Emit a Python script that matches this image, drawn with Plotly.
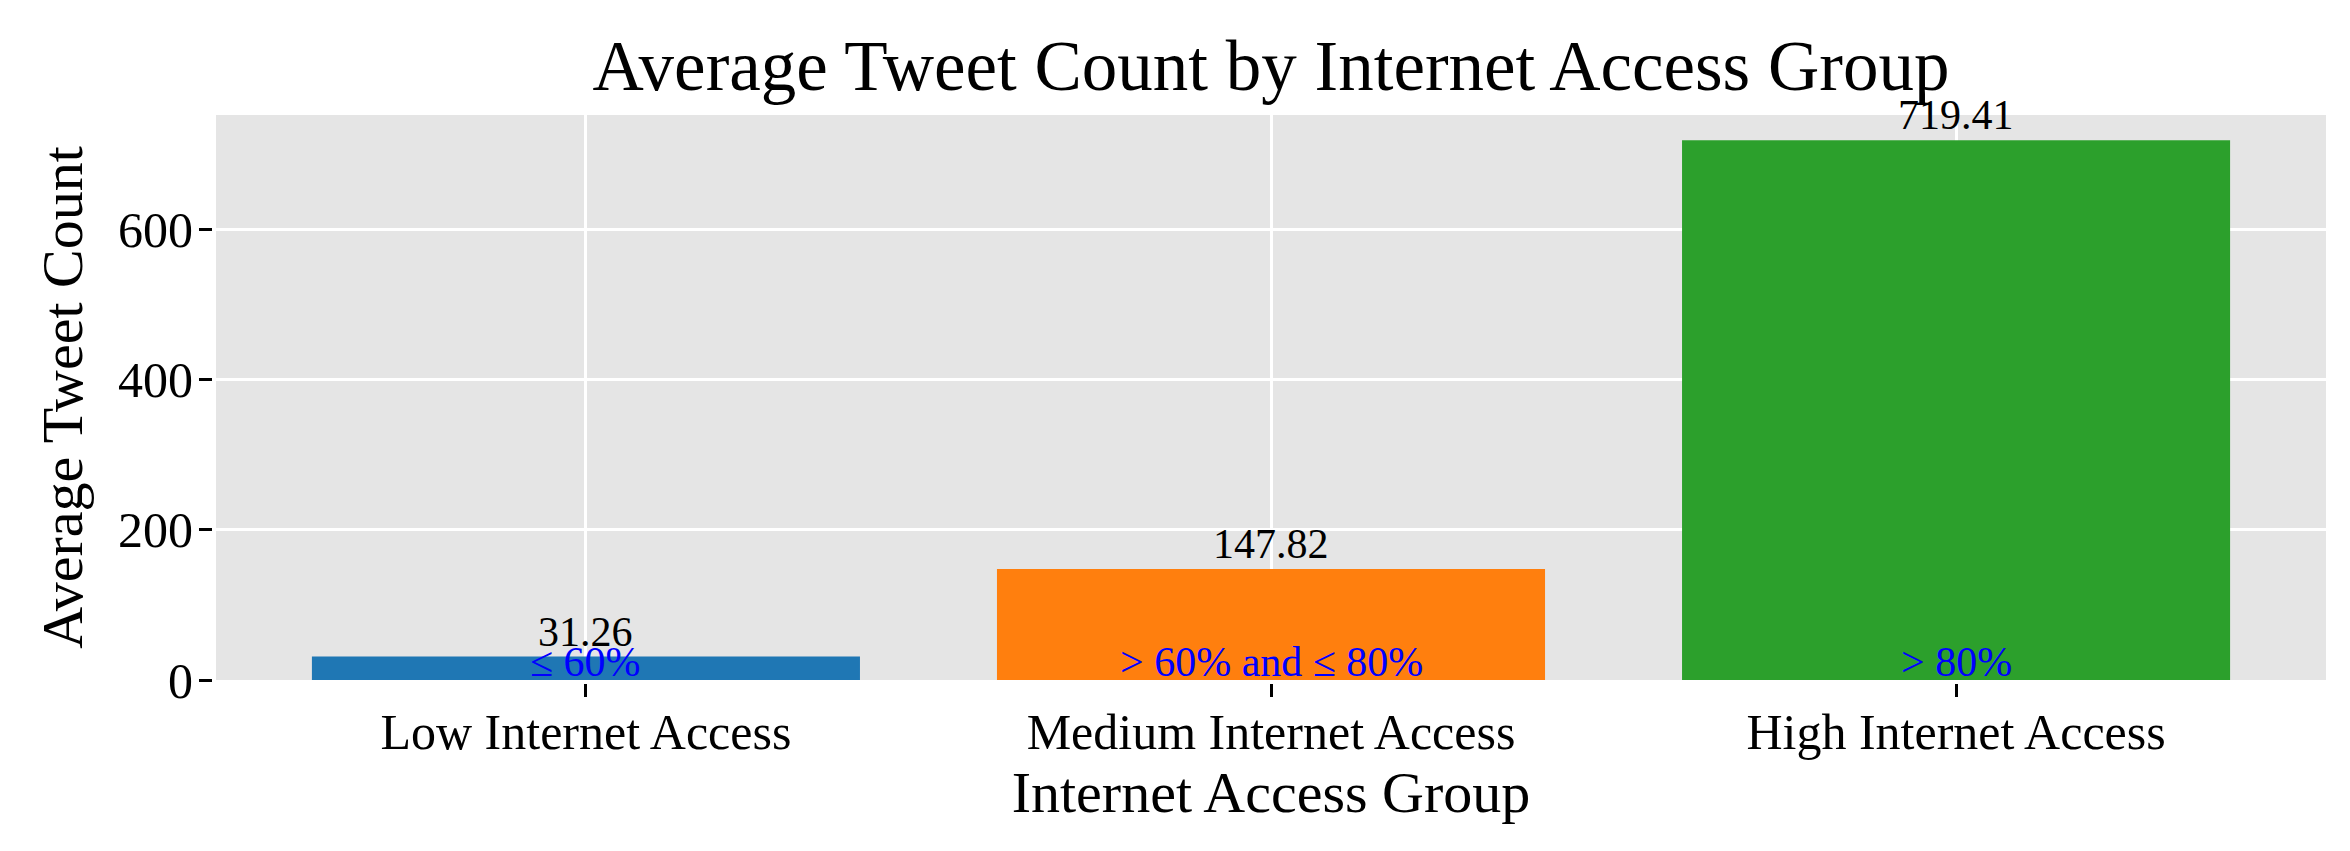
import plotly.graph_objects as go

categories = ["Low Internet Access", "Medium Internet Access", "High Internet Access"]
avg_tweets = [31.26, 147.82, 719.41]
value_labels = ["31.26", "147.82", "719.41"]
range_labels = ["\u2264 60%", "> 60% and \u2264 80%", "> 80%"]
bar_colors = ["#1f77b4", "#ff7f0e", "#2ca02c"]

FONT = "Liberation Serif"

fig = go.Figure()
fig.add_trace(go.Bar(
    x=list(range(len(categories))),
    y=avg_tweets,
    width=0.8,
    marker=dict(color=bar_colors, line=dict(width=0)),
    hoverinfo="skip",
))

annotations = []
for i, (v, lab, rl) in enumerate(zip(avg_tweets, value_labels, range_labels)):
    annotations.append(dict(
        x=i, y=v, xref="x", yref="y", text=lab, showarrow=False,
        yanchor="bottom", xanchor="center", yshift=0,
        font=dict(family=FONT, size=42, color="black"),
    ))
    annotations.append(dict(
        x=i, y=0, xref="x", yref="y", text=rl, showarrow=False,
        yanchor="bottom", xanchor="center", yshift=-7,
        font=dict(family=FONT, size=42, color="blue"),
    ))

fig.update_layout(
    width=2350, height=851,
    margin=dict(l=208, r=32, t=107, b=179),
    paper_bgcolor="white",
    plot_bgcolor="#E5E5E5",
    showlegend=False,
    font=dict(family=FONT, color="black"),
    title=dict(
        text="Average Tweet Count by Internet Access Group",
        x=0.5, xref="paper", xanchor="center",
        y=1 - 57 / 851, yref="container", yanchor="middle",
        font=dict(family=FONT, size=71, color="black"),
    ),
    xaxis=dict(
        range=[-0.54, 2.54],
        tickmode="array",
        tickvals=list(range(len(categories))),
        ticktext=categories,
        ticks="outside", ticklen=13, tickwidth=3, tickcolor="black",
        showline=True, linecolor="white", linewidth=4, mirror=True,
        showgrid=True, gridcolor="white", gridwidth=2.5,
        zeroline=False,
        ticklabelstandoff=-8,
        tickfont=dict(family=FONT, size=50, color="black"),
        title=dict(text="Internet Access Group", standoff=10,
                   font=dict(family=FONT, size=58, color="black")),
    ),
    yaxis=dict(
        range=[0, 753],
        tickmode="array",
        tickvals=[0, 200, 400, 600],
        ticks="outside", ticklen=13, tickwidth=3, tickcolor="black",
        showline=True, linecolor="white", linewidth=4, mirror=True,
        showgrid=True, gridcolor="white", gridwidth=2.5,
        zeroline=False,
        ticklabelstandoff=-4,
        tickfont=dict(family=FONT, size=50, color="black"),
        title=dict(text="Average Tweet Count", standoff=18,
                   font=dict(family=FONT, size=58, color="black")),
    ),
    annotations=annotations,
)

fig.write_html("out.html")
